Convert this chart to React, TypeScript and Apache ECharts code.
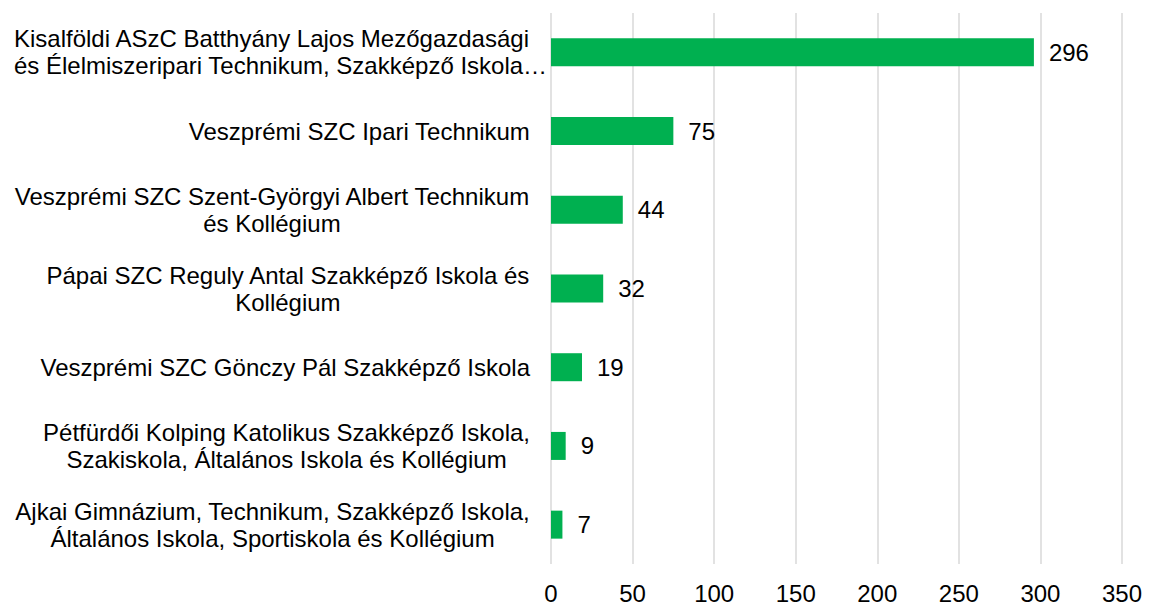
import React, { useEffect, useRef } from "react";
import * as echarts from "echarts";

const categories: string[] = [
  "Kisalföldi ASzC Batthyány Lajos Mezőgazdasági\nés Élelmiszeripari Technikum, Szakképző Iskola…",
  "Veszprémi SZC Ipari Technikum",
  "Veszprémi SZC Szent-Györgyi Albert Technikum\nés Kollégium",
  "Pápai SZC Reguly Antal Szakképző Iskola és\nKollégium",
  "Veszprémi SZC Gönczy Pál Szakképző Iskola",
  "Pétfürdői Kolping Katolikus Szakképző Iskola,\nSzakiskola, Általános Iskola és Kollégium",
  "Ajkai Gimnázium, Technikum, Szakképző Iskola,\nÁltalános Iskola, Sportiskola és Kollégium",
];

const values: number[] = [296, 75, 44, 32, 19, 9, 7];

const xTicks = { min: 0, max: 350, interval: 50 };

const FONT = "'Liberation Sans', Arial, sans-serif";

export default function App() {
  const ref = useRef<HTMLDivElement>(null);

  useEffect(() => {
    document.body.style.margin = "0";
    if (!ref.current) return;
    const chart = echarts.init(ref.current, null, { renderer: "svg" });
    const baseRich = {
      fontFamily: FONT,
      fontSize: 24,
      color: "#000",
      lineHeight: 27,
    };
    chart.setOption({
      animation: false,
      backgroundColor: "#fff",
      grid: { left: 551, right: 27, top: 13, bottom: 39, containLabel: false },
      xAxis: {
        type: "value",
        min: xTicks.min,
        max: xTicks.max,
        interval: xTicks.interval,
        axisLine: { show: false },
        axisTick: { show: false },
        splitLine: { show: true, lineStyle: { color: "#d9d9d9", width: 1.5 } },
        axisLabel: {
          fontFamily: FONT,
          fontSize: 24,
          color: "#000",
          margin: 17,
        },
      },
      yAxis: {
        type: "category",
        inverse: true,
        data: categories,
        axisLine: { show: false },
        axisTick: { show: false },
        splitLine: { show: false },
        axisLabel: {
          margin: 21,
          align: "right",
          formatter: (val: string, idx: number) => {
            const lines = val.split("\n");
            if (idx === 0) {
              return lines.map((l) => `{a|${l}}`).join("\n");
            }
            return lines.map((l) => `{c|${l}}`).join("\n");
          },
          rich: {
            a: { ...baseRich, align: "left", width: 516 },
            c: { ...baseRich, align: "center" },
          },
        },
      },
      series: [
        {
          type: "bar",
          data: values,
          barWidth: 28,
          itemStyle: { color: "#00B050" },
          label: {
            show: true,
            position: "right",
            distance: 15,
            fontFamily: FONT,
            fontSize: 24,
            color: "#000",
          },
        },
      ],
    });
    return () => chart.dispose();
  }, []);

  return <div ref={ref} style={{ width: 1149, height: 605 }} />;
}
